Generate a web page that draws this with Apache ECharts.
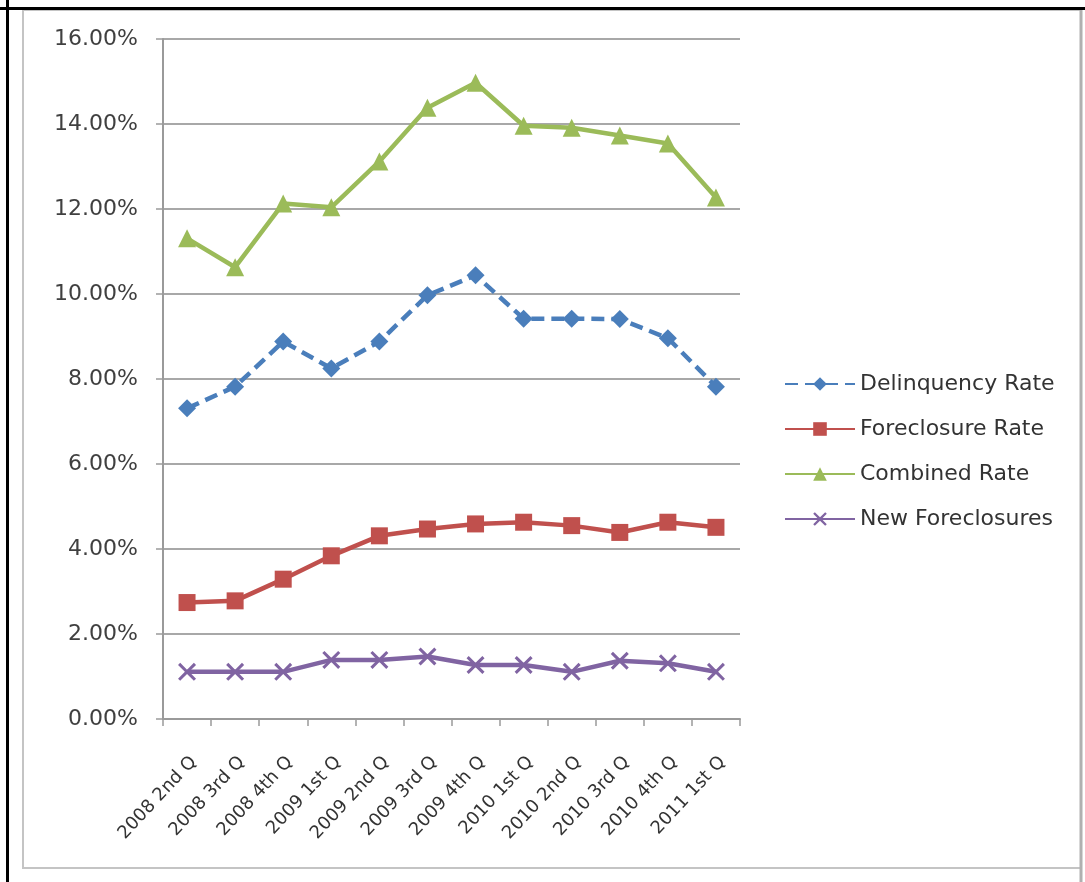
<!DOCTYPE html>
<html>
<head>
<meta charset="utf-8">
<script src="https://cdn.jsdelivr.net/npm/echarts@6/dist/echarts.min.js"></script>
<style>
  html, body { margin: 0; padding: 0; background: #fff; }
  #chart { width: 1085px; height: 882px; }
</style>
</head>
<body>
<div id="chart"></div>
<script>
const categories = ['2008 2nd Q', '2008 3rd Q', '2008 4th Q', '2009 1st Q', '2009 2nd Q', '2009 3rd Q',
  '2009 4th Q', '2010 1st Q', '2010 2nd Q', '2010 3rd Q', '2010 4th Q', '2011 1st Q'];
const delinquencyRate = [7.31, 7.82, 8.88, 8.25, 8.88, 9.97, 10.44, 9.42, 9.42, 9.41, 8.96, 7.82];
const foreclosureRate = [2.74, 2.78, 3.29, 3.84, 4.31, 4.47, 4.59, 4.63, 4.55, 4.39, 4.63, 4.51];
const combinedRate = [11.31, 10.63, 12.13, 12.04, 13.12, 14.38, 14.97, 13.96, 13.91, 13.73, 13.54, 12.27];
const newForeclosures = [1.11, 1.11, 1.11, 1.39, 1.39, 1.47, 1.27, 1.27, 1.11, 1.37, 1.31, 1.11];
const yTicks = [0, 2, 4, 6, 8, 10, 12, 14, 16];

const FONT = 'DejaVu Sans';
const xSymbol = 'path://M0,1.2 L1.2,0 L5,3.8 L8.8,0 L10,1.2 L6.2,5 L10,8.8 L8.8,10 L5,6.2 L1.2,10 L0,8.8 L3.8,5 Z';

const chart = echarts.init(document.getElementById('chart'), null, { renderer: 'canvas' });
chart.setOption({
  animation: false,
  backgroundColor: '#ffffff',
  graphic: [
    { type: 'rect', shape: { x: 23, y: 10, width: 1058, height: 858 }, style: { fill: '#fff', stroke: '#c4c4c4', lineWidth: 2 }, z: -10 },
    { type: 'line', shape: { x1: 1081, y1: 10, x2: 1081, y2: 882 }, style: { stroke: '#b0b0b0', lineWidth: 3 }, z: -9 },
    { type: 'line', shape: { x1: 0, y1: 8.5, x2: 1085, y2: 8.5 }, style: { stroke: '#000', lineWidth: 3 } },
    { type: 'line', shape: { x1: 7.5, y1: 0, x2: 7.5, y2: 882 }, style: { stroke: '#000', lineWidth: 3 } }
  ],
  grid: { left: 163, right: 345, top: 39, bottom: 163, containLabel: false },
  legend: {
    orient: 'vertical',
    left: 779,
    top: 368,
    itemWidth: 70,
    itemHeight: 17,
    itemGap: 23,
    textStyle: { fontFamily: FONT, fontSize: 22, color: '#333' },
    data: ['Delinquency Rate', 'Foreclosure Rate', 'Combined Rate', 'New Foreclosures']
  },
  xAxis: {
    type: 'category',
    data: categories,
    boundaryGap: true,
    axisLine: { lineStyle: { color: '#9a9a9a', width: 2 } },
    axisTick: { show: true, interval: 0, length: 7, lineStyle: { color: '#9a9a9a', width: 1.5 } },
    axisLabel: { interval: 0, rotate: 47, margin: 34, verticalAlign: 'top', fontFamily: FONT, fontSize: 18, color: '#333' },
    splitLine: { show: false }
  },
  yAxis: {
    type: 'value',
    min: 0,
    max: 16,
    interval: 2,
    axisLine: { show: true, lineStyle: { color: '#9a9a9a', width: 2 } },
    axisTick: { show: true, inside: false, length: 7, lineStyle: { color: '#9a9a9a', width: 1.5 } },
    axisLabel: {
      margin: 25, fontFamily: FONT, fontSize: 22, color: '#404040',
      formatter: v => yTicks.includes(v) ? v.toFixed(2) + '%' : ''
    },
    splitLine: { show: true, lineStyle: { color: '#a8a8a8', width: 2 } }
  },
  series: [
    {
      name: 'Delinquency Rate', type: 'line', data: delinquencyRate,
      symbol: 'diamond', symbolSize: 18,
      lineStyle: { color: '#4a7ebb', width: 4.5, type: [13, 7] },
      itemStyle: { color: '#4a7ebb' }
    },
    {
      name: 'Foreclosure Rate', type: 'line', data: foreclosureRate,
      symbol: 'rect', symbolSize: 17,
      lineStyle: { color: '#c0504d', width: 4.5 },
      itemStyle: { color: '#c0504d' }
    },
    {
      name: 'Combined Rate', type: 'line', data: combinedRate,
      symbol: 'triangle', symbolSize: 18,
      lineStyle: { color: '#9bbb59', width: 4.5 },
      itemStyle: { color: '#9bbb59' }
    },
    {
      name: 'New Foreclosures', type: 'line', data: newForeclosures,
      symbol: xSymbol, symbolSize: 18,
      lineStyle: { color: '#8064a2', width: 4.5 },
      itemStyle: { color: '#8064a2' }
    }
  ]
});
</script>
</body>
</html>
